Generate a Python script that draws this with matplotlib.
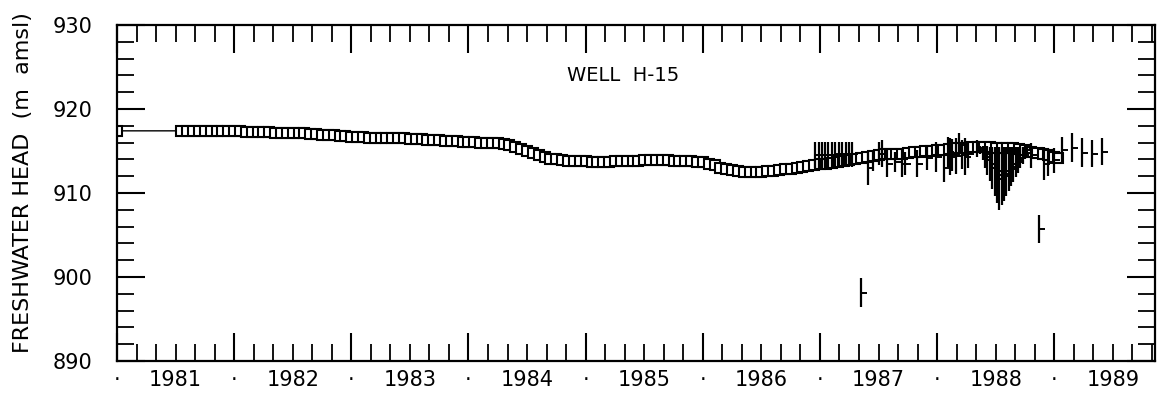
import matplotlib.pyplot as plt
from matplotlib.path import Path

# --- DATOS ---
# serie principal (cuadrados)
sq_year = [1981.00, 1981.55, 1981.60, 1981.65, 1981.70, 1981.75, 1981.80, 1981.85, 1981.90, 1981.95,
           1982.00, 1982.05, 1982.10, 1982.15, 1982.20, 1982.25, 1982.30, 1982.35, 1982.40, 1982.45,
           1982.50, 1982.55, 1982.60, 1982.65, 1982.70, 1982.75, 1982.80, 1982.85, 1982.90, 1982.95,
           1983.00, 1983.05, 1983.10, 1983.15, 1983.20, 1983.25, 1983.30, 1983.35, 1983.40, 1983.45,
           1983.50, 1983.55, 1983.60, 1983.65, 1983.70, 1983.75, 1983.80, 1983.85, 1983.90, 1983.95,
           1984.00, 1984.05, 1984.10, 1984.15, 1984.20, 1984.25, 1984.30, 1984.35, 1984.40, 1984.45,
           1984.50, 1984.55, 1984.60, 1984.65, 1984.70, 1984.75, 1984.80, 1984.85, 1984.90, 1984.95,
           1985.00, 1985.05, 1985.10, 1985.15, 1985.20, 1985.25, 1985.30, 1985.35, 1985.40, 1985.45,
           1985.50, 1985.55, 1985.60, 1985.65, 1985.70, 1985.75, 1985.80, 1985.85, 1985.90, 1985.95,
           1986.00, 1986.05, 1986.10, 1986.15, 1986.20, 1986.25, 1986.30, 1986.35, 1986.40, 1986.45,
           1986.50, 1986.55, 1986.60, 1986.65, 1986.70, 1986.75, 1986.80, 1986.85, 1986.90, 1986.95,
           1987.00, 1987.05, 1987.10, 1987.15, 1987.20, 1987.25, 1987.30, 1987.35, 1987.40, 1987.45,
           1987.50, 1987.55, 1987.60, 1987.65, 1987.70, 1987.75, 1987.80, 1987.85, 1987.90, 1987.95,
           1988.00, 1988.05, 1988.10, 1988.15, 1988.20, 1988.25, 1988.30, 1988.35, 1988.40, 1988.45,
           1988.50, 1988.55, 1988.60, 1988.65, 1988.70, 1988.75, 1988.80, 1988.85, 1988.90, 1988.95,
           1989.00, 1989.03]
sq_head = [917.4, 917.4, 917.4, 917.4, 917.4, 917.4, 917.4, 917.4, 917.4, 917.4,
           917.4, 917.4, 917.3, 917.3, 917.3, 917.3, 917.3, 917.2, 917.2, 917.2,
           917.1, 917.1, 917.1, 917.0, 917.0, 916.9, 916.9, 916.9, 916.8, 916.8,
           916.7, 916.7, 916.7, 916.6, 916.6, 916.6, 916.6, 916.5, 916.5, 916.5,
           916.4, 916.4, 916.4, 916.3, 916.3, 916.3, 916.2, 916.2, 916.2, 916.1,
           916.1, 916.1, 916.0, 916.0, 916.0, 915.9, 915.8, 915.7, 915.5, 915.2,
           915.0, 914.8, 914.5, 914.3, 914.1, 914.0, 913.9, 913.8, 913.8, 913.8,
           913.8, 913.7, 913.7, 913.7, 913.7, 913.8, 913.8, 913.8, 913.8, 913.8,
           913.9, 913.9, 913.9, 913.9, 913.9, 913.8, 913.8, 913.8, 913.8, 913.7,
           913.7, 913.5, 913.3, 913.0, 912.8, 912.7, 912.6, 912.5, 912.5, 912.5,
           912.5, 912.6, 912.6, 912.7, 912.8, 912.9, 913.0, 913.1, 913.2, 913.3,
           913.4, 913.5, 913.6, 913.7, 913.8, 913.9, 914.1, 914.2, 914.3, 914.4,
           914.5, 914.6, 914.6, 914.7, 914.7, 914.8, 914.9, 914.9, 915.0, 915.0,
           915.1, 915.1, 915.2, 915.3, 915.3, 915.4, 915.5, 915.5, 915.5, 915.5,
           915.4, 915.4, 915.3, 915.3, 915.2, 915.1, 914.9, 914.8, 914.6, 914.5,
           914.3, 914.2]

# serie de rangos (barra vertical min-max con tic en la media)
bar_year = [1986.96, 1986.99, 1987.02, 1987.04, 1987.07, 1987.10, 1987.13, 1987.16, 1987.19, 1987.22,
            1987.25, 1987.27, 1987.41, 1987.45, 1987.50, 1987.53, 1987.57, 1987.64, 1987.70, 1987.73,
            1987.83, 1987.91, 1987.99, 1988.06, 1988.09, 1988.11, 1988.13, 1988.16, 1988.19, 1988.21,
            1988.24, 1988.26, 1988.34, 1988.37, 1988.39, 1988.41, 1988.43, 1988.45, 1988.47, 1988.49,
            1988.51, 1988.53, 1988.55, 1988.57, 1988.59, 1988.61, 1988.63, 1988.65, 1988.67, 1988.69,
            1988.71, 1988.73, 1988.75, 1988.77, 1988.79, 1988.80, 1988.91, 1988.95, 1989.00, 1989.07,
            1989.15, 1989.24, 1989.32, 1989.41]
bar_low = [913.0, 913.0, 913.0, 913.0, 913.0, 913.0, 913.1, 913.1, 913.1, 913.1,
           913.1, 913.1, 911.0, 912.6, 913.3, 913.1, 911.9, 912.5, 911.9, 912.1,
           911.9, 912.7, 912.5, 911.3, 913.1, 912.1, 912.6, 912.3, 914.3, 912.8,
           912.2, 913.0, 914.3, 914.7, 913.9, 913.0, 912.2, 911.4, 910.5, 909.7,
           908.8, 908.0, 908.6, 909.1, 909.7, 910.2, 910.8, 911.3, 911.9, 912.4,
           913.0, 913.5, 914.1, 914.6, 915.0, 913.0, 911.5, 912.0, 912.4, 913.5,
           913.7, 913.1, 913.1, 913.3]
bar_high = [916.1, 916.1, 916.1, 916.1, 916.1, 916.1, 916.1, 916.1, 916.1, 916.1,
            916.1, 916.1, 914.9, 915.1, 916.1, 916.3, 915.1, 914.9, 915.1, 914.9,
            915.1, 915.7, 916.1, 914.7, 916.7, 916.5, 916.4, 916.5, 917.1, 916.3,
            916.5, 916.2, 916.3, 915.6, 915.6, 915.6, 915.6, 915.5, 915.5, 915.5,
            915.5, 915.5, 915.5, 915.5, 915.5, 915.5, 915.5, 915.5, 915.5, 915.5,
            915.5, 915.5, 915.6, 915.7, 915.8, 916.0, 915.5, 915.3, 915.4, 916.7,
            917.1, 916.5, 916.3, 916.5]
bar_mean = [914.5, 914.5, 914.5, 914.5, 914.5, 914.5, 914.6, 914.6, 914.6, 914.6,
            914.6, 914.6, 913.0, 913.8, 914.7, 914.7, 913.5, 913.7, 913.5, 913.5,
            913.5, 914.2, 914.3, 913.0, 914.9, 914.3, 914.5, 914.4, 915.7, 914.5,
            914.3, 914.6, 915.3, 915.1, 914.7, 914.3, 913.9, 913.4, 913.0, 912.6,
            912.1, 911.7, 912.0, 912.3, 912.6, 912.8, 913.1, 913.4, 913.7, 913.9,
            914.2, 914.5, 914.8, 915.1, 915.4, 914.5, 913.5, 913.6, 913.9, 915.1,
            915.4, 914.8, 914.7, 914.9]

# marcas aisladas
lone_year = [1987.35, 1988.87]
lone_low = [896.4, 904.0]
lone_high = [899.9, 907.4]
lone_mean = [898.1, 905.7]

years = [1981, 1982, 1983, 1984, 1985, 1986, 1987, 1988, 1989]
y_major = [890, 900, 910, 920, 930]

# marcador "tic a la derecha"
tick_right = Path([(0, 0), (1, 0)], [Path.MOVETO, Path.LINETO])

fig = plt.figure(figsize=(11.62, 3.95), dpi=100)
ax = fig.add_axes([0.1007, 0.0861, 0.8933, 0.8506])

ax.plot(sq_year, sq_head, color='black', lw=1.0, marker='s', markersize=6.5,
        mfc='white', mec='black', mew=1.5)

ax.vlines(bar_year, bar_low, bar_high, color='black', lw=1.6)
ax.plot(bar_year, bar_mean, ls='none', marker=tick_right, markersize=8, mec='black', mew=1.4)
ax.vlines(lone_year, lone_low, lone_high, color='black', lw=1.6)
ax.plot(lone_year, lone_mean, ls='none', marker=tick_right, markersize=8, mec='black', mew=1.4)

ax.set_xlim(1981.0, 1989.86)
ax.set_ylim(890, 930)

# tics largos en cada año, cortos cada 2 meses
ax.set_xticks(years, labels=[''] * len(years))
ax.set_xticks([y + m / 6 for y in range(1981, 1990) for m in range(1, 6)], minor=True)
ax.set_yticks(y_major, labels=[str(v) for v in y_major])
ax.set_yticks(list(range(890, 931, 2)), minor=True)
ax.tick_params(which='major', direction='in', length=20, width=1.5, top=True, right=True,
               labelsize=15)
ax.tick_params(which='minor', direction='in', length=12, width=1.3, top=True, right=True)
ax.tick_params(axis='y', which='major', pad=18)

xt = ax.get_xaxis_transform()
for yr in years:
    ax.text(yr + 0.5, -0.057, str(yr), transform=xt, ha='center', va='center', fontsize=15)
    ax.text(yr, -0.057, '·', transform=xt, ha='center', va='center', fontsize=15)

for s in ax.spines.values():
    s.set_linewidth(1.6)

fig.text(23 / 1162, 0.537, 'FRESHWATER HEAD  (m  amsl)', rotation=90, ha='center', va='center',
         fontsize=16)
ax.text(0.4875, 0.851, 'WELL  H-15', transform=ax.transAxes, ha='center', va='center', fontsize=14)

fig.savefig('out.png', dpi=100)
